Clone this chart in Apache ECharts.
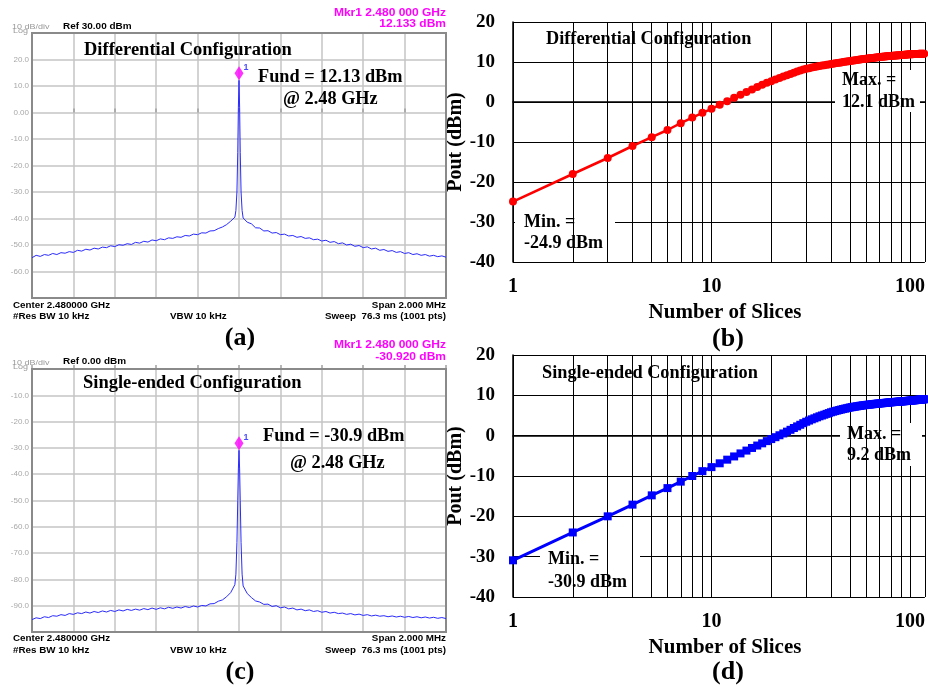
<!DOCTYPE html>
<html><head><meta charset="utf-8">
<script src="https://cdn.jsdelivr.net/npm/echarts@6/dist/echarts.min.js"></script>
<style>html,body{margin:0;padding:0;background:#fff}#c{width:928px;height:687px}</style>
</head><body><div id="c"></div>
<script>
// ---- spectrum analyser traces (offset from 2.48 GHz, MHz) ----
const freqMHz = [-1.00,-0.98,-0.96,-0.94,-0.92,-0.90,-0.88,-0.86,-0.84,-0.82,-0.80,-0.78,-0.76,-0.74,-0.72,-0.70,-0.68,-0.66,-0.64,-0.62,
-0.60,-0.58,-0.56,-0.54,-0.52,-0.50,-0.48,-0.46,-0.44,-0.42,-0.40,-0.38,-0.36,-0.34,-0.32,-0.30,-0.28,-0.26,-0.24,-0.22,
-0.20,-0.18,-0.16,-0.14,-0.12,-0.10,-0.08,-0.06,-0.04,-0.02,
-0.015,-0.01,-0.006,-0.003,0,0.003,0.006,0.01,0.015,
0.02,0.04,0.06,0.08,0.10,0.12,0.14,0.16,0.18,0.20,0.22,0.24,0.26,0.28,0.30,0.32,0.34,0.36,0.38,0.40,
0.42,0.44,0.46,0.48,0.50,0.52,0.54,0.56,0.58,0.60,0.62,0.64,0.66,0.68,0.70,0.72,0.74,0.76,0.78,0.80,
0.82,0.84,0.86,0.88,0.90,0.92,0.94,0.96,0.98,1.00];
const levelDiff = [-54.8,-53.9,-54.3,-53.6,-53.9,-53.2,-53.6,-52.9,-53.1,-52.5,
-52.8,-52.0,-52.3,-51.6,-51.9,-51.2,-51.5,-50.8,-51.0,-50.3,
-50.6,-49.9,-50.1,-49.5,-49.8,-49.0,-49.3,-48.6,-48.9,-48.1,
-48.4,-47.7,-48.0,-47.3,-47.5,-46.9,-47.1,-46.4,-46.6,-45.9,
-46.1,-45.4,-45.5,-44.7,-44.6,-43.8,-43.2,-42.3,-41.0,-39.5,
-37,-30,-15,2,12.13,2,-15,-30,-37,
-39.8,-41.4,-42.0,-43.5,-43.6,-44.7,-44.6,-45.5,-45.3,-46.1,
-45.9,-46.6,-46.4,-47.1,-46.8,-47.5,-47.3,-48.0,-47.8,-48.5,
-48.2,-49.0,-48.7,-49.5,-49.2,-50.0,-49.7,-50.5,-50.2,-51.0,
-50.7,-51.5,-51.2,-52.0,-51.7,-52.4,-52.1,-52.8,-52.5,-53.2,
-52.9,-53.6,-53.3,-53.9,-53.6,-54.2,-53.9,-54.4,-54.1,-54.6];
const levelSingle = [-95.3,-94.6,-94.9,-94.2,-94.5,-93.8,-94.0,-93.4,-93.7,-93.0,
-93.3,-92.7,-93.0,-92.4,-92.8,-92.2,-92.6,-92.0,-92.4,-91.8,
-92.2,-91.6,-92.0,-91.4,-91.8,-91.3,-91.7,-91.1,-91.5,-90.9,
-91.4,-90.8,-91.2,-90.6,-91.0,-90.5,-90.9,-90.3,-90.7,-90.1,
-90.5,-89.9,-90.1,-89.3,-89.2,-88.3,-87.8,-86.6,-85.0,-82.0,
-78,-66,-50,-38,-30.92,-38,-50,-66,-78,
-82.5,-85.4,-86.9,-88.2,-88.6,-89.5,-89.4,-90.3,-90.0,-90.8,
-90.5,-91.2,-90.9,-91.6,-91.3,-91.9,-91.6,-92.2,-91.9,-92.5,
-92.2,-92.8,-92.5,-93.0,-92.8,-93.3,-93.0,-93.5,-93.2,-93.7,
-93.4,-93.9,-93.6,-94.0,-93.8,-94.2,-93.9,-94.3,-94.0,-94.4,
-94.1,-94.5,-94.2,-94.6,-94.3,-94.7,-94.4,-94.8,-94.5,-94.9];
const markerDiff = [0, 12.13];
const markerSingle = [0, -30.92];

// ---- Pout vs number of slices ----
const slices = [1,2,3,4,5,6,7,8,9,10,11,12,13,14,15,16,17,18,19,20,21,22,23,24,25,26,27,28,29,30,
31,32,33,34,35,36,37,38,39,40,41,42,43,44,45,46,47,48,49,50,51,52,53,54,55,56,57,58,59,60,
61,62,63,64,65,66,67,68,69,70,71,72,73,74,75,76,77,78,79,80,81,82,83,84,85,86,87,88,89,90,
91,92,93,94,95,96,97,98,99,100,101,102,103,104,105,106,107,108,109,110,111,112,113,114,115,116,117,118,119,120,
121,122,123,124,125,126,127,128];
const poutDiff = [-24.9,-18.0,-14.0,-11.0,-8.8,-7.0,-5.3,-3.9,-2.7,-1.7,
-0.7,0.2,1.05,1.8,2.5,3.15,3.75,4.3,4.8,5.2,
5.6,6.0,6.35,6.7,7.0,7.3,7.6,7.85,8.1,8.3,
8.45,8.6,8.75,8.9,9.0,9.1,9.2,9.3,9.4,9.5,
9.58,9.66,9.74,9.82,9.9,9.98,10.05,10.12,10.19,10.26,
10.32,10.38,10.44,10.5,10.56,10.62,10.68,10.73,10.78,10.83,
10.87,10.91,10.95,10.99,11.03,11.07,11.11,11.15,11.19,11.23,
11.26,11.29,11.32,11.35,11.38,11.41,11.44,11.47,11.5,11.53,
11.55,11.57,11.59,11.61,11.63,11.65,11.67,11.69,11.71,11.73,
11.75,11.77,11.79,11.81,11.83,11.85,11.87,11.89,11.91,11.93,
11.94,11.95,11.96,11.97,11.98,11.99,12.0,12.01,12.02,12.03,
12.04,12.05,12.05,12.06,12.06,12.07,12.07,12.08,12.08,12.09,
12.09,12.1,12.1,12.1,12.11,12.11,12.12,12.13];
const poutSingle = [-30.9,-24.0,-20.0,-17.1,-14.8,-13.0,-11.4,-10.0,-8.8,-7.8,
-6.85,-5.95,-5.15,-4.4,-3.7,-3.05,-2.45,-1.9,-1.35,-0.85,
-0.38,0.1,0.55,1.0,1.45,1.9,2.3,2.7,3.1,3.45,
3.75,4.05,4.3,4.55,4.8,5.0,5.2,5.4,5.6,5.8,
5.95,6.1,6.23,6.36,6.48,6.6,6.7,6.8,6.9,7.0,
7.07,7.14,7.21,7.28,7.34,7.4,7.46,7.51,7.56,7.61,
7.65,7.69,7.73,7.77,7.81,7.85,7.89,7.92,7.95,7.98,
8.01,8.04,8.07,8.1,8.13,8.16,8.19,8.22,8.25,8.28,
8.3,8.32,8.34,8.36,8.38,8.4,8.42,8.44,8.46,8.48,
8.5,8.52,8.54,8.56,8.58,8.6,8.62,8.64,8.66,8.68,
8.7,8.72,8.74,8.76,8.78,8.8,8.82,8.84,8.86,8.88,
8.9,8.92,8.94,8.96,8.98,9.0,9.02,9.04,9.06,9.08,
9.1,9.11,9.12,9.14,9.15,9.17,9.18,9.2];
const logMinorGrid = [2,3,4,5,6,7,8,9,20,30,40,50,60,70,80,90,200,300,400,500,600,700,800,900];
const sliceTickLabels = [1, 10, 100];
const sliceAxisMax = 118.85;   // right edge of the (cropped) log axis

const SERIF = '"Liberation Serif","Times New Roman",serif';
const SANS = '"Liberation Sans",Arial,sans-serif';
const pairs = (xs, ys) => xs.map((x, i) => [x, ys[i]]);

function specX(g){
  return {gridIndex:g, type:'value', position:'top', min:-1, max:1, interval:0.2,
    axisLine:{show:false}, axisTick:{show:true, length:4, lineStyle:{color:'#a0a0a0', width:1.5}}, axisLabel:{show:false},
    splitLine:{show:true, lineStyle:{color:'#c4c4c4', width:1.5}}};
}
function specY(g, min, max){
  return {gridIndex:g, type:'value', min:min, max:max, interval:10,
    axisLine:{show:false}, axisTick:{show:false},
    splitLine:{show:true, lineStyle:{color:'#c4c4c4', width:1.5}},
    axisLabel:{fontFamily:SANS, fontSize:8, color:'#a8a8a8', margin:3,
      formatter: v => (v===min||v===max) ? '' : (v===0 ? '0.00' : v.toFixed(1))}};
}
function logX(g){
  return {gridIndex:g, type:'log', logBase:10, min:1, max:sliceAxisMax,
    axisLine:{show:true, lineStyle:{color:'#000', width:1.5}}, axisTick:{show:false},
    splitLine:{show:true, lineStyle:{color:'#000', width:1}},
    axisLabel:{fontFamily:SERIF, fontWeight:'bold', fontSize:20, color:'#000', margin:15,
      formatter: v => { const r = Math.round(v); return (sliceTickLabels.indexOf(r)>=0 && Math.abs(v-r)<1e-6) ? String(r) : ''; }}};
}
function poutY(g){
  return {gridIndex:g, type:'value', min:-40, max:20, interval:10,
    axisLine:{show:true, lineStyle:{color:'#000', width:1.5}}, axisTick:{show:false},
    splitLine:{show:true, lineStyle:{color:'#000', width:1}},
    axisLabel:{fontFamily:SERIF, fontWeight:'bold', fontSize:19, color:'#000', margin:18},
    name:'Pout (dBm)', nameLocation:'middle', nameGap:47,
    nameTextStyle:{fontFamily:SERIF, fontWeight:'bold', fontSize:20, color:'#000'}};
}
function T(text, x, y, size, o){
  o = o || {};
  return {type:'text', x:x, y:y, z:10, silent:true, scaleX:o.sx||1, style:{text:text,
    fontFamily:o.family||SERIF, fontSize:size, fontWeight:o.weight||'bold',
    fill:o.color||'#000', align:o.align||'left', verticalAlign:'middle',
    textAlign:o.align||'left', textVerticalAlign:'middle'}};
}
function R(x, y, w, h){
  return {type:'rect', z:3, silent:true, shape:{x:x, y:y, width:w, height:h}, style:{fill:'#fff'}};
}
const sans = (c, w, sx, al) => ({family:SANS, weight:w||'bold', color:c||'#000', sx:sx||1.12, align:al||'left'});

const chart = echarts.init(document.getElementById('c'));
chart.setOption({
  animation:false,
  backgroundColor:'#fff',
  grid:[
    {left:32, top:33, width:414, height:265, show:true, borderColor:'#8a8a8a', borderWidth:2, z:1},
    {left:513, top:22, width:415, height:240, show:false},
    {left:32, top:369, width:414, height:263, show:true, borderColor:'#8a8a8a', borderWidth:2, z:1},
    {left:513, top:355, width:415, height:242, show:false}
  ],
  xAxis:[specX(0), logX(1), specX(2), logX(3)],
  yAxis:[specY(0,-70,30), poutY(1), specY(2,-100,0), poutY(3)],
  series:[
    {type:'line', xAxisIndex:0, yAxisIndex:0, data:pairs(freqMHz, levelDiff), showSymbol:false,
      lineStyle:{color:'#2a2aff', width:1}, z:4},
    {type:'scatter', xAxisIndex:0, yAxisIndex:0, data:[markerDiff], symbol:'diamond', symbolSize:[9,14],
      symbolOffset:[0,-7], itemStyle:{color:'#ff00ff'}, z:6,
      label:{show:true, formatter:'1', position:'right', offset:[-5,-6], color:'#1a1aff', fontFamily:SANS, fontSize:9, fontWeight:'bold'}},
    {type:'line', xAxisIndex:2, yAxisIndex:2, data:pairs(freqMHz, levelSingle), showSymbol:false,
      lineStyle:{color:'#2a2aff', width:1}, z:4},
    {type:'scatter', xAxisIndex:2, yAxisIndex:2, data:[markerSingle], symbol:'diamond', symbolSize:[9,14],
      symbolOffset:[0,-7], itemStyle:{color:'#ff00ff'}, z:6,
      label:{show:true, formatter:'1', position:'right', offset:[-5,-6], color:'#1a1aff', fontFamily:SANS, fontSize:9, fontWeight:'bold'}},
    {type:'line', xAxisIndex:1, yAxisIndex:1, data:[], z:2, silent:true,
      markLine:{silent:true, symbol:['none','none'], label:{show:false}, animation:false,
        lineStyle:{color:'#000', width:1, type:'solid'}, data:logMinorGrid.map(v => ({xAxis:v}))}},
    {type:'line', xAxisIndex:3, yAxisIndex:3, data:[], z:2, silent:true,
      markLine:{silent:true, symbol:['none','none'], label:{show:false}, animation:false,
        lineStyle:{color:'#000', width:1, type:'solid'}, data:logMinorGrid.map(v => ({xAxis:v}))}},
    {type:'line', xAxisIndex:1, yAxisIndex:1, data:pairs(slices, poutDiff), symbol:'circle', symbolSize:8,
      itemStyle:{color:'#ff0000'}, lineStyle:{color:'#ff0000', width:2.5}, z:5},
    {type:'line', xAxisIndex:3, yAxisIndex:3, data:pairs(slices, poutSingle), symbol:'rect', symbolSize:8,
      itemStyle:{color:'#0000ff'}, lineStyle:{color:'#0000ff', width:3}, z:5}
  ],
  graphic:{elements:[
    // panel (a)
    T('10 dB/div', 12, 26.5, 7.5, sans('#999','normal',1.2)),
    T('Log', 13, 31, 7.5, sans('#999','normal',1.2)),
    T('Ref 30.00 dBm', 63, 27, 8.5, sans('#000','bold',1.17)),
    T('Mkr1 2.480 000 GHz', 446, 13, 10, sans('#ff00ff','bold',1.2,'right')),
    T('12.133 dBm', 446, 24, 10, sans('#ff00ff','bold',1.2,'right')),
    T('Differential Configuration', 84, 50, 18.5),
    T('Fund = 12.13 dBm', 258, 77, 18.3),
    T('@ 2.48 GHz', 283, 99, 18.3),
    T('Center 2.480000 GHz', 13, 306, 9, sans('#000','bold',1.09)),
    T('#Res BW 10 kHz', 13, 316.7, 9, sans('#000','bold',1.09)),
    T('VBW 10 kHz', 170, 316.7, 9, sans('#000','bold',1.09)),
    T('Span 2.000 MHz', 446, 306, 9, sans('#000','bold',1.09,'right')),
    T('Sweep  76.3 ms (1001 pts)', 446, 316.7, 9, sans('#000','bold',1.09,'right')),
    T('(a)', 240, 338, 26, {align:'center'}),
    // panel (c)
    T('10 dB/div', 12, 362.5, 7.5, sans('#999','normal',1.2)),
    T('Log', 13, 367, 7.5, sans('#999','normal',1.2)),
    T('Ref 0.00 dBm', 63, 362, 8.5, sans('#000','bold',1.17)),
    T('Mkr1 2.480 000 GHz', 446, 345, 10, sans('#ff00ff','bold',1.2,'right')),
    T('-30.920 dBm', 446, 357, 10, sans('#ff00ff','bold',1.2,'right')),
    T('Single-ended Configuration', 83, 383, 18.5),
    T('Fund = -30.9 dBm', 263, 436, 18.3),
    T('@ 2.48 GHz', 290, 463, 18.3),
    T('Center 2.480000 GHz', 13, 639, 9, sans('#000','bold',1.09)),
    T('#Res BW 10 kHz', 13, 651, 9, sans('#000','bold',1.09)),
    T('VBW 10 kHz', 170, 651, 9, sans('#000','bold',1.09)),
    T('Span 2.000 MHz', 446, 639, 9, sans('#000','bold',1.09,'right')),
    T('Sweep  76.3 ms (1001 pts)', 446, 651, 9, sans('#000','bold',1.09,'right')),
    T('(c)', 240, 672, 26, {align:'center'}),
    // panel (b)
    T('Differential Configuration', 546, 39, 18.3),
    R(515, 211, 100, 41),
    T('Min. =', 524, 222, 18),
    T('-24.9 dBm', 524, 243, 18),
    R(835, 70, 85, 42),
    T('Max. =', 842, 80, 18),
    T('12.1 dBm', 842, 102, 18),
    T('Number of Slices', 725, 313, 21, {align:'center'}),
    T('(b)', 728, 339, 26, {align:'center'}),
    // panel (d)
    T('Single-ended Configuration', 542, 373, 18.3),
    R(540, 550, 100, 41),
    T('Min. =', 548, 559, 18),
    T('-30.9 dBm', 548, 582, 18),
    R(840, 423, 82, 43),
    T('Max. =', 847, 434, 18),
    T('9.2 dBm', 847, 455, 18),
    T('Number of Slices', 725, 648, 21, {align:'center'}),
    T('(d)', 728, 672, 26, {align:'center'})
  ]}
});
</script>
</body></html>
